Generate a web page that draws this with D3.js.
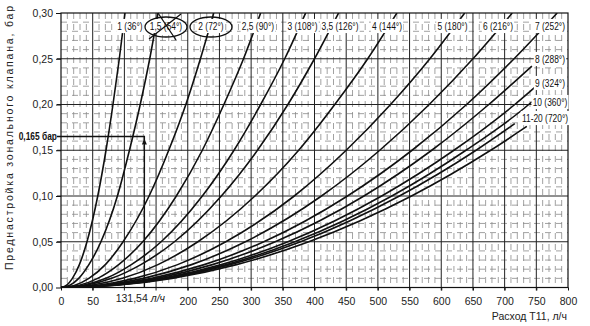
<!DOCTYPE html>
<html>
<head>
<meta charset="utf-8">
<script src="https://cdn.jsdelivr.net/npm/d3@7"></script>
<style>
  html, body { margin: 0; padding: 0; background: #fff; }
  svg { display: block; }
  .tick-label { font-family: "Liberation Sans", Arial, sans-serif; font-size: 10.5px; fill: #222; }
  .curve-label { font-family: "Liberation Sans", Arial, sans-serif; font-size: 10.5px; fill: #111; }
</style>
</head>
<body>
<svg id="chart" width="590" height="326"></svg>
<script>
// Zone valve presetting: pressure drop (bar) against flow (l/h) per presetting.
const curveNames = ["1", "1,5", "2", "2,5", "3", "3,5", "4", "5", "6", "7", "8", "9", "10", "11", "20"];

// Pressure levels (bar) at which each curve's flow was read.
const pressureLevels = [0, 0.0025, 0.01, 0.025, 0.05, 0.10, 0.15, 0.20, 0.25, 0.30];

// Flow (l/h) of each curve at the pressure levels above.
const flowReadings = [
  [0, 9, 18, 29, 41, 58, 71, 82, 92, 101],
  [0, 14, 28, 44, 63, 89, 108, 125, 140, 153],
  [0, 22, 44, 70, 98, 139, 170, 197, 220, 241],
  [0, 29, 58, 91, 129, 182, 223, 257, 288, 315],
  [0, 35, 71, 111, 158, 223, 273, 315, 353, 386],
  [0, 40, 80, 126, 179, 253, 310, 358, 400, 438],
  [0, 48, 97, 153, 216, 306, 375, 432, 484, 530],
  [0, 58, 116, 184, 260, 368, 450, 520, 582, 637],
  [0, 65, 130, 206, 291, 411, 503, 581, 650, 712],
  [0, 72, 143, 226, 320, 452, 554, 640, 715, 783],
  [0, 76, 151, 239, 338, 478, 585, 675],
  [0, 80, 160, 253, 358, 506, 620, 716],
  [0, 83, 165, 261, 369, 522, 639, 738],
  [0, 85, 169, 267, 378, 534, 655],
  [0, 88, 175, 277, 391, 553, 678]
];

// Last point of the curves that stop before the top of the chart.
const endFlow     = [null, null, null, null, null, null, null, null, null, null, 743, 748, 743, 716, 735];
const endPressure = [null, null, null, null, null, null, null, null, null, null, 0.242, 0.219, 0.203, 0.179, 0.176];

// Curve labels: presetting (rotation angle).
const topLabels   = ["1 (36°)", "1,5 (54°)", "2 (72°)", "2,5 (90°)", "3 (108°)", "3,5 (126°)", "4 (144°)", "5 (180°)", "6 (216°)", "7 (252°)"];
const sideLabels  = ["8 (288°)", "9 (324°)", "10 (360°)", "11-20 (720°)"];

// Axis ticks.
const xTickValues = [0, 50, 200, 250, 300, 350, 400, 450, 500, 550, 600, 650, 700, 750, 800];
const yTickValues = [0, 0.05, 0.10, 0.15, 0.20, 0.25, 0.30];

// Reading example.
const exampleFlow = 131.54;
const examplePressure = 0.165;

const xLabelText = "Расход T11, л/ч";
const yLabelText = "Преднастройка зонального клапана, бар";

// ---------- layout ----------
const svg = d3.select("#chart");
const pL = 61, pR = 568, pT = 13, pB = 287.5;

const x = d3.scaleLinear().domain([0, 800]).range([pL, pR]);
const y = d3.scaleLinear().domain([0, 0.30]).range([pB, pT]);

const comma = v => d3.format(".2f")(v).replace(".", ",");

// ---------- grid ----------
const grid = svg.append("g");
grid.selectAll(".vminor").data(d3.range(0, 801, 10).filter(v => v % 50 !== 0))
  .join("line")
  .attr("x1", d => x(d)).attr("x2", d => x(d)).attr("y1", pT).attr("y2", pB)
  .attr("stroke", "#8a8a8a").attr("stroke-width", 0.8).attr("stroke-dasharray", "6,5");
grid.selectAll(".hminor").data(d3.range(1, 30).filter(v => v % 5 !== 0).map(v => v / 100))
  .join("line")
  .attr("x1", pL).attr("x2", pR).attr("y1", d => y(d)).attr("y2", d => y(d))
  .attr("stroke", "#8a8a8a").attr("stroke-width", 0.8).attr("stroke-dasharray", "6,5");
grid.selectAll(".vmajor").data(d3.range(50, 800, 50))
  .join("line")
  .attr("x1", d => x(d)).attr("x2", d => x(d)).attr("y1", pT).attr("y2", pB + 3)
  .attr("stroke", "#222").attr("stroke-width", 1);
grid.selectAll(".hmajor").data(yTickValues.slice(1, -1))
  .join("line")
  .attr("x1", pL - 4).attr("x2", pR).attr("y1", d => y(d)).attr("y2", d => y(d))
  .attr("stroke", "#222").attr("stroke-width", 1);

// frame
svg.append("rect").attr("x", pL).attr("y", pT).attr("width", pR - pL).attr("height", pB - pT)
  .attr("fill", "none").attr("stroke", "#111").attr("stroke-width", 1.2);

// ---------- axes ----------
const xAxis = svg.append("g").attr("transform", `translate(0,${pB})`)
  .call(d3.axisBottom(x).tickValues(xTickValues).tickSize(3).tickFormat(d3.format("d")));
xAxis.select(".domain").remove();
xAxis.selectAll("text").attr("class", "tick-label").attr("dy", "1.05em").attr("font-size", null).attr("font-family", null);

const yAxis = svg.append("g").attr("transform", `translate(${pL},0)`)
  .call(d3.axisLeft(y).tickValues(yTickValues).tickSize(5).tickFormat(comma));
yAxis.select(".domain").remove();
yAxis.selectAll("text").attr("class", "tick-label").attr("x", -8).attr("font-size", null).attr("font-family", null);
svg.selectAll(".tick line").attr("stroke", "#111");

// axis titles
svg.append("text").attr("class", "tick-label")
  .attr("transform", `translate(13,138) rotate(-90)`)
  .attr("text-anchor", "middle").attr("font-size", "13px")
  .attr("textLength", 264).attr("lengthAdjust", "spacing").text(yLabelText);
svg.append("text").attr("class", "tick-label")
  .attr("x", pR - 1).attr("y", 320).attr("text-anchor", "end").attr("font-size", "10px").text(xLabelText);

// ---------- curves ----------
svg.append("clipPath").attr("id", "plot-clip")
  .append("rect").attr("x", pL).attr("y", pT).attr("width", pR - pL).attr("height", pB - pT);

const line = d3.line().x(d => x(d[0])).y(d => y(d[1])).curve(d3.curveMonotoneX);
const curves = curveNames.map((name, i) => {
  const pts = flowReadings[i].map((q, j) => [q, pressureLevels[j]]);
  if (endFlow[i] !== null) pts.push([endFlow[i], endPressure[i]]);
  return { name, pts };
});

svg.append("g").attr("clip-path", "url(#plot-clip)")
  .selectAll("path").data(curves).join("path")
  .attr("d", d => line(d.pts))
  .attr("fill", "none").attr("stroke", "#111").attr("stroke-width", 1.6);

// ---------- reading example ----------
const ex = svg.append("g");
ex.append("path")
  .attr("d", `M${pL - 4},${y(examplePressure)} H${x(exampleFlow)} V${pB}`)
  .attr("fill", "none").attr("stroke", "#111").attr("stroke-width", 1.4);
ex.append("path")
  .attr("d", `M${x(exampleFlow) - 2.5},${y(examplePressure) + 8} L${x(exampleFlow)},${y(examplePressure) + 2} L${x(exampleFlow) + 2.5},${y(examplePressure) + 8} Z`)
  .attr("fill", "#111");
ex.append("text").attr("class", "curve-label")
  .attr("transform", `translate(${pL - 4},${y(examplePressure) + 3}) scale(0.8,1)`)
  .attr("text-anchor", "end").attr("font-weight", "bold").attr("font-size", "9.5px").text("0,165 бар");
const exText = ex.append("text").attr("class", "tick-label")
  .attr("x", x(exampleFlow) - 4).attr("y", 301.5).attr("text-anchor", "middle").attr("font-size", "9px");
exText.append("tspan").text("131,54 ");
exText.append("tspan").attr("font-style", "italic").text("л/ч");

// ---------- curve labels ----------
const topPos = [130, 166, 211, 258, 302.5, 340, 387, 452.5, 498, 550];
const sidePos = [[550, 59], [550, 83], [550, 102], [545, 118]];

const labelG = svg.append("g");
function addLabel(text, cx, cy) {
  const g = labelG.append("g").attr("transform", `translate(${cx},${cy}) scale(0.8,1)`);
  const t = g.append("text").attr("class", "curve-label")
    .attr("x", 0).attr("y", 0).attr("text-anchor", "middle").attr("dominant-baseline", "central").text(text);
  const b = t.node().getBBox();
  g.insert("rect", "text").attr("x", b.x - 1.5).attr("y", b.y - 1).attr("width", b.width + 3).attr("height", b.height + 2)
    .attr("fill", "#fff");
}
topLabels.forEach((t, i) => addLabel(t, topPos[i], 26));
sideLabels.forEach((t, i) => addLabel(t, sidePos[i][0], sidePos[i][1]));

// hand marks: ring around 1,5 and 2, the 1,5 setting crossed out
labelG.append("ellipse").attr("cx", 166).attr("cy", 27).attr("rx", 21).attr("ry", 10)
  .attr("fill", "none").attr("stroke", "#111").attr("stroke-width", 1.3);
labelG.append("ellipse").attr("cx", 211).attr("cy", 27).attr("rx", 21).attr("ry", 10)
  .attr("fill", "none").attr("stroke", "#111").attr("stroke-width", 1.3);
labelG.append("path").attr("d", "M149,39 L181,14 M158,13 L176,40")
  .attr("fill", "none").attr("stroke", "#111").attr("stroke-width", 1.3);
</script>
</body>
</html>
